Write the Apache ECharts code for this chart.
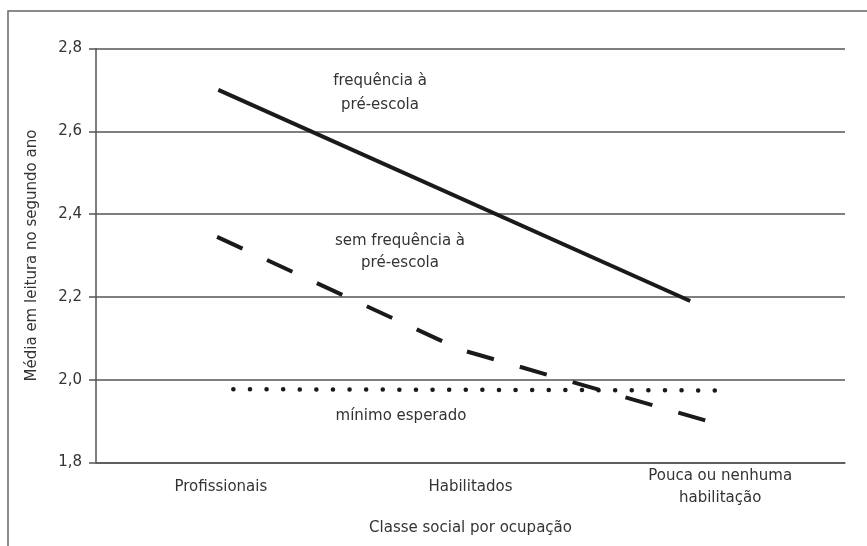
<!DOCTYPE html>
<html>
<head>
<meta charset="utf-8">
<script src="https://cdn.jsdelivr.net/npm/echarts@6/dist/echarts.min.js"></script>
<style>
  html, body { margin: 0; padding: 0; background: #fff; }
  #chart { width: 867px; height: 546px; }
</style>
</head>
<body>
<div id="chart"></div>
<script>
// categories sit at the middle of each unit on a 0..3 x scale
const categories = ['Profissionais', 'Habilitados', 'Pouca ou nenhuma\nhabilitação']
const categoryPos = [0.5, 1.5, 2.5]
const yTicks = [1.8, 2.0, 2.2, 2.4, 2.6, 2.8]

// values (x on the 0..3 scale, y = reading score)
const comPreX = [0.49, 2.38]
const comPreY = [2.70, 2.19]
const semPreX = [0.485, 1.458, 2.45]
const semPreY = [2.345, 2.073, 1.90]
const minimoX = [0.55, 2.51]
const minimoY = [1.977, 1.974]

const pairs = (xs, ys) => xs.map((x, i) => [x, ys[i]])

const textColor = '#333'
const axisColor = '#555'
const font = 'DejaVu Sans'

const chart = echarts.init(document.getElementById('chart'), null, { renderer: 'canvas' })

chart.setOption({
  backgroundColor: '#ffffff',
  animation: false,
  textStyle: { fontFamily: font },
  grid: { left: 96, right: 22, top: 48.5, bottom: 83.5 },
  xAxis: {
    type: 'value',
    min: 0,
    max: 3,
    interval: 0.5,
    name: 'Classe social por ocupação',
    nameLocation: 'middle',
    nameGap: 58,
    nameTextStyle: { color: textColor, fontSize: 15, fontFamily: font },
    axisLine: { show: true, onZero: false, lineStyle: { color: axisColor, width: 1.5 } },
    axisTick: { show: false },
    splitLine: { show: false },
    axisLabel: {
      color: textColor,
      fontSize: 15,
      fontFamily: font,
      lineHeight: 22,
      verticalAlign: 'middle',
      margin: 25,
      showMinLabel: true,
      showMaxLabel: true,
      formatter: (v) => {
        const i = categoryPos.findIndex((p) => Math.abs(p - v) < 1e-6)
        return i >= 0 ? categories[i] : ''
      },
    },
  },
  yAxis: {
    type: 'value',
    min: yTicks[0],
    max: yTicks[yTicks.length - 1],
    interval: 0.2,
    name: 'Média em leitura no segundo ano',
    nameLocation: 'middle',
    nameGap: 56,
    nameTextStyle: { color: textColor, fontSize: 15, fontFamily: font },
    axisLine: { show: true, lineStyle: { color: axisColor, width: 1.5 } },
    axisTick: { show: true, length: 7, lineStyle: { color: axisColor, width: 1.5 } },
    axisLabel: {
      color: textColor,
      fontSize: 15,
      fontFamily: font,
      margin: 14,
      formatter: (v) => v.toFixed(1).replace('.', ','),
    },
    splitLine: { show: true, lineStyle: { color: axisColor, width: 1.5 } },
  },
  graphic: [
    {
      type: 'polyline',
      shape: { points: [[8, 546], [8, 11], [867, 11]] },
      style: { stroke: '#666', lineWidth: 1.5, fill: null },
      silent: true,
    },
    {
      type: 'text', silent: true,
      position: [380, 93],
      style: { text: 'frequência à\npré-escola', align: 'center', verticalAlign: 'middle',
        fill: textColor, font: '15px ' + font, lineHeight: 24 },
    },
    {
      type: 'text', silent: true,
      position: [400, 252],
      style: { text: 'sem frequência à\npré-escola', align: 'center', verticalAlign: 'middle',
        fill: textColor, font: '15px ' + font, lineHeight: 22 },
    },
    {
      type: 'text', silent: true,
      position: [401, 416],
      style: { text: 'mínimo esperado', align: 'center', verticalAlign: 'middle',
        fill: textColor, font: '15px ' + font },
    },
  ],
  series: [
    {
      name: 'frequência à pré-escola',
      type: 'line',
      data: pairs(comPreX, comPreY),
      symbol: 'none',
      lineStyle: { color: '#1a1a1a', width: 4 },
    },
    {
      name: 'sem frequência à pré-escola',
      type: 'line',
      data: pairs(semPreX, semPreY),
      symbol: 'none',
      lineStyle: { color: '#1a1a1a', width: 4, type: [28, 27] },
    },
    {
      name: 'mínimo esperado',
      type: 'line',
      data: pairs(minimoX, minimoY),
      symbol: 'none',
      lineStyle: { color: '#1a1a1a', width: 4.5, type: [0.1, 16.5], cap: 'round' },
    },
  ],
})
</script>
</body>
</html>
